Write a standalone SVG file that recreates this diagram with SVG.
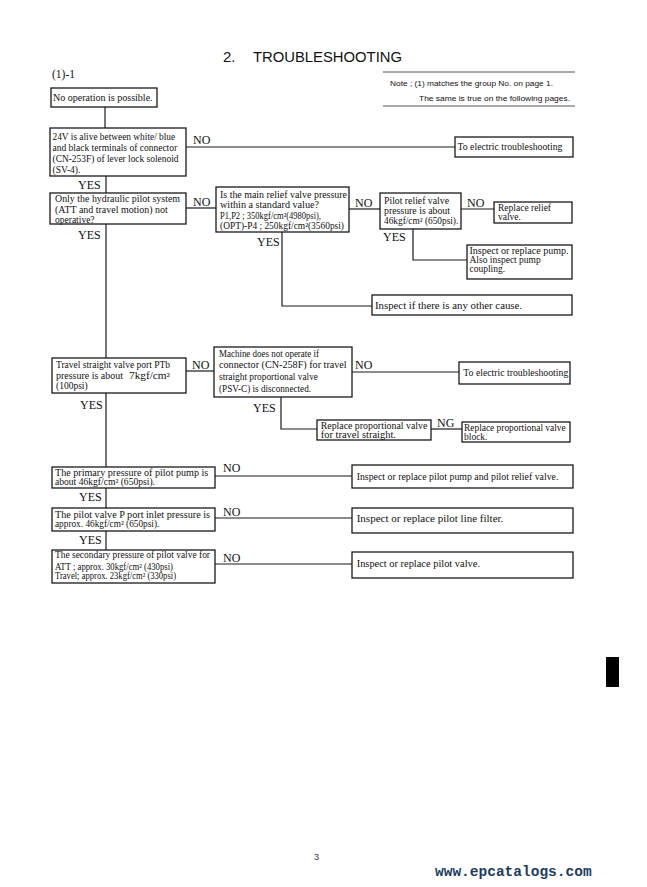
<svg xmlns="http://www.w3.org/2000/svg" width="647" height="887" viewBox="0 0 647 887">
<style>
.bx{fill:#fff;stroke:#1a1a1a;stroke-width:1.3}
.t{font-family:"Liberation Serif","Times New Roman",serif;font-size:9.5px;fill:#111}
.lb{font-family:"Liberation Serif","Times New Roman",serif;font-size:12px;fill:#111}
.ln{fill:none;stroke:#1a1a1a;stroke-width:1.2}
.sa{font-family:"Liberation Sans",Arial,sans-serif;fill:#111}
</style>
<rect width="647" height="887" fill="#fff"/>
<g id="header">
<text class="sa" x="223" y="62" font-size="15">2.</text>
<text class="sa" x="253" y="62" font-size="15" textLength="149" lengthAdjust="spacingAndGlyphs">TROUBLESHOOTING</text>
<text x="52" y="78" font-family="Liberation Serif,serif" font-size="11.5" fill="#111">(1)-1</text>
<line x1="383" y1="72" x2="575" y2="72" stroke="#555" stroke-width="1"/>
<line x1="383" y1="106" x2="575" y2="106" stroke="#555" stroke-width="1"/>
<text class="sa" x="390" y="86" font-size="8" textLength="163" lengthAdjust="spacingAndGlyphs">Note ;  (1) matches the group No. on page 1.</text>
<text class="sa" x="419" y="101" font-size="8" textLength="151" lengthAdjust="spacingAndGlyphs">The same is true on the following pages.</text>
</g>
<g id="connectors">
<polyline class="ln" points="105,107 105,128"/>
<polyline class="ln" points="186,147 455,147"/>
<polyline class="ln" points="106,176 106,193"/>
<polyline class="ln" points="186,208 216,208"/>
<polyline class="ln" points="349,209 380,209"/>
<polyline class="ln" points="461,209 494,209"/>
<polyline class="ln" points="282,232 282,306 372,306"/>
<polyline class="ln" points="413,229 413,260 467,260"/>
<polyline class="ln" points="106,224 106,358"/>
<polyline class="ln" points="186,371 214,371"/>
<polyline class="ln" points="352,372 459,372"/>
<polyline class="ln" points="281,397 281,429 317,429"/>
<polyline class="ln" points="431,429 462,429"/>
<polyline class="ln" points="106,393 106,467"/>
<polyline class="ln" points="215,476 352,476"/>
<polyline class="ln" points="106,488 106,508"/>
<polyline class="ln" points="215,518 352,518"/>
<polyline class="ln" points="106,531 106,550"/>
<polyline class="ln" points="215,564 352,564"/>
</g>
<g id="labels">
<text class="lb" x="193" y="144">NO</text>
<text class="lb" x="78" y="189">YES</text>
<text class="lb" x="193" y="206">NO</text>
<text class="lb" x="355" y="207">NO</text>
<text class="lb" x="467" y="207">NO</text>
<text class="lb" x="78" y="239">YES</text>
<text class="lb" x="257" y="246">YES</text>
<text class="lb" x="383" y="241">YES</text>
<text class="lb" x="192" y="369">NO</text>
<text class="lb" x="355" y="369">NO</text>
<text class="lb" x="80" y="409">YES</text>
<text class="lb" x="253" y="412">YES</text>
<text class="lb" x="437" y="427">NG</text>
<text class="lb" x="223" y="472">NO</text>
<text class="lb" x="79" y="501">YES</text>
<text class="lb" x="223" y="516">NO</text>
<text class="lb" x="79" y="544">YES</text>
<text class="lb" x="223" y="562">NO</text>
</g>
<g id="n1"><rect class="bx" x="51" y="88" width="106" height="19"/>
<text class="t" x="53" y="101" textLength="99.6" lengthAdjust="spacingAndGlyphs">No operation is possible.</text></g>
<g id="n2"><rect class="bx" x="50" y="128" width="136" height="48"/>
<text class="t" x="52.5" y="140" textLength="122.7" lengthAdjust="spacingAndGlyphs">24V is alive between white/ blue</text>
<text class="t" x="52.5" y="151" textLength="124.7" lengthAdjust="spacingAndGlyphs">and black terminals of connector</text>
<text class="t" x="52.5" y="162" textLength="126" lengthAdjust="spacingAndGlyphs">(CN-253F) of lever lock solenoid</text>
<text class="t" x="52.5" y="173">(SV-4).</text></g>
<g id="n3"><rect class="bx" x="455" y="137" width="118" height="20"/>
<text class="t" x="457.5" y="150" textLength="105" lengthAdjust="spacingAndGlyphs">To electric troubleshooting</text></g>
<g id="n4"><rect class="bx" x="50" y="193" width="136" height="31"/>
<text class="t" x="55" y="202" textLength="125" lengthAdjust="spacingAndGlyphs">Only the hydraulic pilot system</text>
<text class="t" x="55" y="213" textLength="112.7" lengthAdjust="spacingAndGlyphs">(ATT and travel motion) not</text>
<text class="t" x="55" y="223">operative?</text></g>
<g id="n5"><rect class="bx" x="216" y="187" width="133" height="45"/>
<text class="t" x="220" y="198" textLength="127" lengthAdjust="spacingAndGlyphs">Is the main relief valve pressure</text>
<text class="t" x="220" y="208" textLength="99" lengthAdjust="spacingAndGlyphs">within a standard value?</text>
<text class="t" x="220" y="219" textLength="101" lengthAdjust="spacingAndGlyphs">P1,P2 ; 350kgf/cm²(4980psi),</text>
<text class="t" x="220" y="229" textLength="124" lengthAdjust="spacingAndGlyphs">(OPT)-P4 ; 250kgf/cm²(3560psi)</text></g>
<g id="n6"><rect class="bx" x="380" y="193" width="81" height="36"/>
<text class="t" x="384" y="204" textLength="65" lengthAdjust="spacingAndGlyphs">Pilot relief valve</text>
<text class="t" x="384" y="214" textLength="66" lengthAdjust="spacingAndGlyphs">pressure is about</text>
<text class="t" x="384" y="224" textLength="74.3" lengthAdjust="spacingAndGlyphs">46kgf/cm² (650psi).</text></g>
<g id="n7"><rect class="bx" x="494" y="202" width="78" height="21"/>
<text class="t" x="498" y="211">Replace relief</text>
<text class="t" x="498" y="220">valve.</text></g>
<g id="n8"><rect class="bx" x="467" y="245" width="105" height="34"/>
<text class="t" x="469.5" y="254" textLength="99" lengthAdjust="spacingAndGlyphs">Inspect or replace pump.</text>
<text class="t" x="469.5" y="263">Also inspect pump</text>
<text class="t" x="469.5" y="272">coupling.</text></g>
<g id="n9"><rect class="bx" x="372" y="295" width="200" height="20"/>
<text class="t" x="375" y="309" textLength="147" lengthAdjust="spacingAndGlyphs">Inspect if there is any other cause.</text></g>
<g id="n10"><rect class="bx" x="52" y="358" width="134" height="35"/>
<text class="t" x="56" y="368" textLength="114" lengthAdjust="spacingAndGlyphs">Travel straight valve port PTb</text>
<text class="t" x="56" y="379" textLength="67" lengthAdjust="spacingAndGlyphs">pressure is about</text>
<text class="t" x="129" y="379" textLength="41" lengthAdjust="spacingAndGlyphs">7kgf/cm²</text>
<text class="t" x="56" y="389">(100psi)</text></g>
<g id="n11"><rect class="bx" x="214" y="347" width="138" height="50"/>
<text class="t" x="219" y="357" textLength="100" lengthAdjust="spacingAndGlyphs">Machine does not operate if</text>
<text class="t" x="219" y="368" textLength="127.7" lengthAdjust="spacingAndGlyphs">connector (CN-258F) for travel</text>
<text class="t" x="219" y="380" textLength="99" lengthAdjust="spacingAndGlyphs">straight proportional valve</text>
<text class="t" x="219" y="392" textLength="92" lengthAdjust="spacingAndGlyphs">(PSV-C) is disconnected.</text></g>
<g id="n12"><rect class="bx" x="459" y="362" width="111" height="22"/>
<text class="t" x="463.3" y="376" textLength="105" lengthAdjust="spacingAndGlyphs">To electric troubleshooting</text></g>
<g id="n13"><rect class="bx" x="317" y="420" width="114" height="20"/>
<text class="t" x="320.7" y="429" textLength="106.7" lengthAdjust="spacingAndGlyphs">Replace proportional valve</text>
<text class="t" x="320.7" y="438" textLength="75.3" lengthAdjust="spacingAndGlyphs">for travel straight.</text></g>
<g id="n14"><rect class="bx" x="462" y="422" width="108" height="20"/>
<text class="t" x="464" y="431" textLength="101.7" lengthAdjust="spacingAndGlyphs">Replace proportional valve</text>
<text class="t" x="464" y="440">block.</text></g>
<g id="n15"><rect class="bx" x="52" y="467" width="163" height="21"/>
<text class="t" x="55" y="476" textLength="153.3" lengthAdjust="spacingAndGlyphs">The primary pressure of pilot pump is</text>
<text class="t" x="55" y="485" textLength="100" lengthAdjust="spacingAndGlyphs">about 46kgf/cm² (650psi).</text></g>
<g id="n16"><rect class="bx" x="352" y="465" width="221" height="23"/>
<text class="t" x="356.7" y="480" textLength="201.7" lengthAdjust="spacingAndGlyphs">Inspect or replace pilot pump and pilot relief valve.</text></g>
<g id="n17"><rect class="bx" x="52" y="508" width="163" height="23"/>
<text class="t" x="55" y="518" textLength="155" lengthAdjust="spacingAndGlyphs">The pilot valve P port inlet pressure is</text>
<text class="t" x="55" y="527" textLength="104.3" lengthAdjust="spacingAndGlyphs">approx. 46kgf/cm² (650psi).</text></g>
<g id="n18"><rect class="bx" x="352" y="508" width="221" height="25"/>
<text class="t" x="356.7" y="522" textLength="146.7" lengthAdjust="spacingAndGlyphs">Inspect or replace pilot line filter.</text></g>
<g id="n19"><rect class="bx" x="52" y="550" width="163" height="33"/>
<text class="t" x="55" y="558" textLength="155" lengthAdjust="spacingAndGlyphs">The secondary pressure of pilot valve for</text>
<text class="t" x="55" y="570" textLength="118" lengthAdjust="spacingAndGlyphs">ATT ; approx. 30kgf/cm² (430psi)</text>
<text class="t" x="55" y="579" textLength="121" lengthAdjust="spacingAndGlyphs">Travel; approx. 23kgf/cm² (330psi)</text></g>
<g id="n20"><rect class="bx" x="352" y="552" width="221" height="26"/>
<text class="t" x="356.7" y="567" textLength="123.3" lengthAdjust="spacingAndGlyphs">Inspect or replace pilot valve.</text></g>
<g id="footer">
<rect x="606" y="657" width="13" height="30" fill="#000"/>
<text x="314" y="860" font-family="Liberation Sans,sans-serif" font-size="9" fill="#333">3</text>
<text x="435" y="876" font-family="Liberation Mono,monospace" font-weight="bold" font-size="14.5" fill="#1c3d63">www.epcatalogs.com</text>
</g>
</svg>
